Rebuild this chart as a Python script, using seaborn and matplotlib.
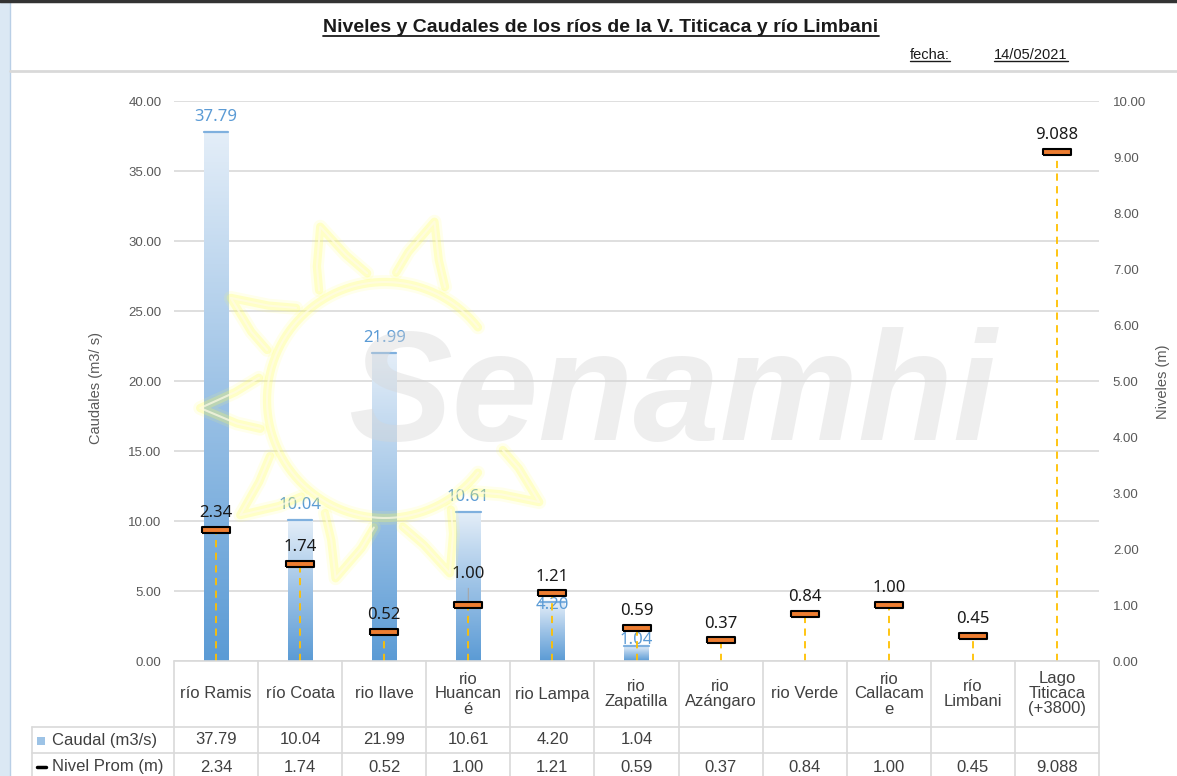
import numpy as np
import pandas as pd
import matplotlib
matplotlib.use("Agg")
import matplotlib.pyplot as plt
import seaborn as sns
from matplotlib.colors import LinearSegmentedColormap
from matplotlib.patches import Rectangle
from matplotlib.lines import Line2D

# ---------------- data ----------------
categories = ["río Ramis", "río Coata", "rio Ilave", "rio Huancané", "rio Lampa",
              "rio Zapatilla", "rio Azángaro", "rio Verde", "rio Callacame",
              "río Limbani", "Lago Titicaca (+3800)"]
header_labels = ["río Ramis", "río Coata", "rio Ilave", "rio\nHuancan\né", "rio Lampa",
                 "rio\nZapatilla", "rio\nAzángaro", "rio Verde", "rio\nCallacam\ne",
                 "río\nLimbani", "Lago\nTiticaca\n(+3800)"]
caudal = [37.79, 10.04, 21.99, 10.61, 4.20, 1.04, None, None, None, None, None]
nivel = [2.34, 1.74, 0.52, 1.00, 1.21, 0.59, 0.37, 0.84, 1.00, 0.45, 9.088]
nivel_text = ["2.34", "1.74", "0.52", "1.00", "1.21", "0.59", "0.37", "0.84", "1.00", "0.45", "9.088"]
caudal_ticks = [0, 5, 10, 15, 20, 25, 30, 35, 40]
nivel_ticks = [0, 1, 2, 3, 4, 5, 6, 7, 8, 9, 10]
title = "Niveles y Caudales de los ríos de la V. Titicaca y río Limbani"
fecha = "14/05/2021"

# ---------------- style ----------------
sns.set_theme(style="white")
plt.rcParams["font.family"] = ["Liberation Sans", "DejaVu Sans"]

W, H = 1177, 776
def fx(x):
    return x / W
def fy(y):
    return 1 - y / H

fig = plt.figure(figsize=(W / 100, H / 100), dpi=100)
fig.patch.set_facecolor("white")

# left blue strip + top border (window frame)
fig.add_artist(Rectangle((0, 0), fx(10), 1, transform=fig.transFigure,
                         facecolor="#dbe8f4", edgecolor="none", zorder=0))
fig.add_artist(Line2D([fx(10), fx(10)], [0, 1], transform=fig.transFigure, color="#b9cfe6", lw=1))
fig.add_artist(Line2D([0, 1], [fy(1), fy(1)], transform=fig.transFigure, color="#333333", lw=2.5))
fig.add_artist(Line2D([fx(10), 1], [fy(71), fy(71)], transform=fig.transFigure, color="#d9d9d9", lw=2))

ax = fig.add_axes([fx(174), fy(661), 925 / W, 560 / H])
n = len(categories)
pos = np.arange(n)

df = pd.DataFrame({"cat": categories, "caudal": caudal})
dfb = df.dropna()
sns.barplot(data=dfb, x="cat", y="caudal", order=categories, width=0.29,
            color="#5b9bd5", errorbar=None, ax=ax)

cmap = LinearSegmentedColormap.from_list("grad", ["#5b9bd5", "#9cc2e6", "#e4eef8"])
grad = np.linspace(0, 1, 256).reshape(-1, 1)
for p in list(ax.patches):
    x0, w, h = p.get_x(), p.get_width(), p.get_height()
    im = ax.imshow(grad, extent=[x0, x0 + w, 0, h], origin="lower", aspect="auto",
                   cmap=cmap, zorder=2)
    im.set_clip_path(p)
    p.set_facecolor("none")
    p.set_edgecolor("none")
    ax.plot([x0, x0 + w], [h, h], color="#7fb0de", lw=1.6, zorder=3)

ax.set_xlim(-0.5, n - 0.5)
ax.set_ylim(0, 40)
ax.set_yticks(caudal_ticks)
ax.set_yticklabels([f"{v:.2f}" for v in caudal_ticks])
ax.set_xticks([])
ax.set_xlabel("")
ax.set_ylabel("")
ax.yaxis.grid(True, color="#d9d9d9", lw=1.2)
ax.set_axisbelow(True)
ax.tick_params(axis="y", length=0, pad=9, labelsize=9.5, labelcolor="#595959")
for s in ax.spines.values():
    s.set_visible(False)

# caudal labels
cau_offsets = {4: -0.2, 5: 0.45}
for i, v in enumerate(caudal):
    if v is None:
        continue
    off = cau_offsets.get(i, 1.1)
    ax.text(i, v + off, f"{v:.2f}", ha="center", va="center", fontsize=12,
            color="#5b9bd5", family=["Noto Sans", "DejaVu Sans"], zorder=6)

# nivel on right axis
ax2 = ax.twinx()
ax2.set_ylim(0, 10)
ax2.set_xlim(-0.5, n - 0.5)
ax2.set_yticks(nivel_ticks)
ax2.set_yticklabels([f"{v:.2f}" for v in nivel_ticks])
ax2.tick_params(axis="y", length=0, pad=10, labelsize=9.5, labelcolor="#595959")
ax2.grid(False)
for s in ax2.spines.values():
    s.set_visible(False)

ax2.vlines(pos, 0, nivel, colors="#ffc000", linestyles=(0, (4, 3)), lw=1.3, zorder=3)
rect_marker = [(-1, -0.19), (1, -0.19), (1, 0.19), (-1, 0.19), (-1, -0.19)]
sns.scatterplot(x=pos, y=nivel, ax=ax2, marker=rect_marker, s=380, color="#ed7d31",
                edgecolor="black", linewidth=1.5, zorder=5, legend=False)
for i, (v, t) in enumerate(zip(nivel, nivel_text)):
    dy = 22 if i == 3 else 12
    ax2.annotate(t, (i, v), xytext=(0, dy), textcoords="offset points", ha="center",
                 va="center", fontsize=12, color="#1a1a1a",
                 family=["Noto Sans", "DejaVu Sans"], zorder=6)
    if i == 3:
        ax2.annotate("", (i, v), xytext=(0, 14), textcoords="offset points",
                     arrowprops=dict(arrowstyle="-", color="#a6a6a6", lw=0.8))
ax2.set_ylabel("")

# axis titles
fig.text(fx(96), fy(388), "Caudales (m3/ s)", rotation=90, ha="center", va="center",
         fontsize=10.5, color="#595959")
fig.text(fx(1163), fy(382), "Niveles (m)", rotation=90, ha="center", va="center",
         fontsize=10.5, color="#595959")

# title & date
t_title = fig.text(fx(601), fy(28), title, ha="center", va="center", fontsize=14,
                   fontweight="bold", color="#1a1a1a")
t_f = fig.text(fx(930), fy(55), "fecha:", ha="center", va="center", fontsize=10.5, color="#1a1a1a")
t_d = fig.text(fx(1031), fy(55), fecha, ha="center", va="center", fontsize=10.5, color="#1a1a1a")

# ---------------- watermark ----------------
cx, cy = 385, 400
ang_arc = np.radians(np.linspace(38, 322, 200))
r_in = 118
arc_x = cx + r_in * np.cos(ang_arc)
arc_y = cy - r_in * np.sin(ang_arc)
ray_x, ray_y = [], []
for a in np.arange(72, 360, 36):
    a0 = np.radians(a)
    da = np.radians(10)
    pts = [(cx + 128 * np.cos(a0 - da), cy - 128 * np.sin(a0 - da)),
           (cx + 150 * np.cos(a0 - da * 0.3), cy - 150 * np.sin(a0 - da * 0.3)),
           (cx + 185 * np.cos(a0 + da * 0.25), cy - 185 * np.sin(a0 + da * 0.25)),
           (cx + 150 * np.cos(a0 + da * 0.9), cy - 150 * np.sin(a0 + da * 0.9)),
           (cx + 128 * np.cos(a0 + da * 1.3), cy - 128 * np.sin(a0 + da * 1.3))]
    ray_x.append([fx(p[0]) for p in pts])
    ray_y.append([fy(p[1]) for p in pts])
for lw, col, al in [(10, "#ffff66", 0.12), (6, "#ffff55", 0.25), (1.5, "#fffbe6", 0.7)]:
    fig.add_artist(Line2D([fx(v) for v in arc_x], [fy(v) for v in arc_y],
                          transform=fig.transFigure, color=col, lw=lw, alpha=al,
                          solid_capstyle="round", zorder=4))
    for xs, ys in zip(ray_x, ray_y):
        fig.add_artist(Line2D(xs, ys, transform=fig.transFigure, color=col, lw=lw,
                              alpha=al, solid_joinstyle="round", solid_capstyle="round", zorder=4))
fig.text(fx(672), fy(400), "Senamhi", ha="center", va="center", fontsize=112,
         fontweight="bold", fontstyle="italic", color="#d6d6d6", alpha=0.4, zorder=4)

# ---------------- data table ----------------
fig.canvas.draw()
inv = fig.transFigure.inverted()
xb = [inv.transform(ax.transData.transform((i - 0.5, 0)))[0] for i in range(n + 1)]
xc = [(xb[i] + xb[i + 1]) / 2 for i in range(n)]
grid_c = "#d9d9d9"
y_top, y_r1, y_r2, y_r3 = 661, 727, 753, 779
def hline(x0, x1, y):
    fig.add_artist(Line2D([x0, x1], [fy(y), fy(y)], transform=fig.transFigure, color=grid_c, lw=1.2))
def vline(x, y0, y1):
    fig.add_artist(Line2D([x, x], [fy(y0), fy(y1)], transform=fig.transFigure, color=grid_c, lw=1.2))
hline(xb[0], xb[-1], y_top)
hline(fx(32), xb[-1], y_r1)
hline(fx(32), xb[-1], y_r2)
hline(fx(32), xb[-1], y_r3)
for x in xb:
    vline(x, y_top, y_r3)
vline(fx(32), y_r1, y_r3)

tc = "#404040"
for i in range(n):
    fig.text(xc[i], fy(694), header_labels[i], ha="center", va="center", fontsize=12,
             color=tc, linespacing=1.0)
    if caudal[i] is not None:
        fig.text(xc[i], fy(740), f"{caudal[i]:.2f}", ha="center", va="center", fontsize=12, color=tc)
    fig.text(xc[i], fy(767), nivel_text[i], ha="center", va="center", fontsize=12, color=tc)

fig.add_artist(Rectangle((fx(37), fy(745)), 8 / W, 8 / H, transform=fig.transFigure,
                         facecolor="#9dc3e6", edgecolor="none"))
fig.add_artist(Line2D([fx(37), fx(46)], [fy(767), fy(767)], transform=fig.transFigure,
                      color="black", lw=2.5))
fig.text(fx(52), fy(740), "Caudal (m3/s)", ha="left", va="center", fontsize=12, color=tc)
fig.text(fx(52), fy(767), "Nivel Prom (m)", ha="left", va="center", fontsize=12, color=tc)

# underlines for title / date
fig.canvas.draw()
r = fig.canvas.get_renderer()
for t in (t_title, t_f, t_d):
    bb = t.get_window_extent(r)
    p0 = inv.transform((bb.x0, bb.y0 + 1))
    p1 = inv.transform((bb.x1, bb.y0 + 1))
    fig.add_artist(Line2D([p0[0], p1[0]], [p0[1], p1[1]], transform=fig.transFigure,
                          color="#1a1a1a", lw=1.3 if t is t_title else 1.0))

fig.savefig("out.png", dpi=100)
